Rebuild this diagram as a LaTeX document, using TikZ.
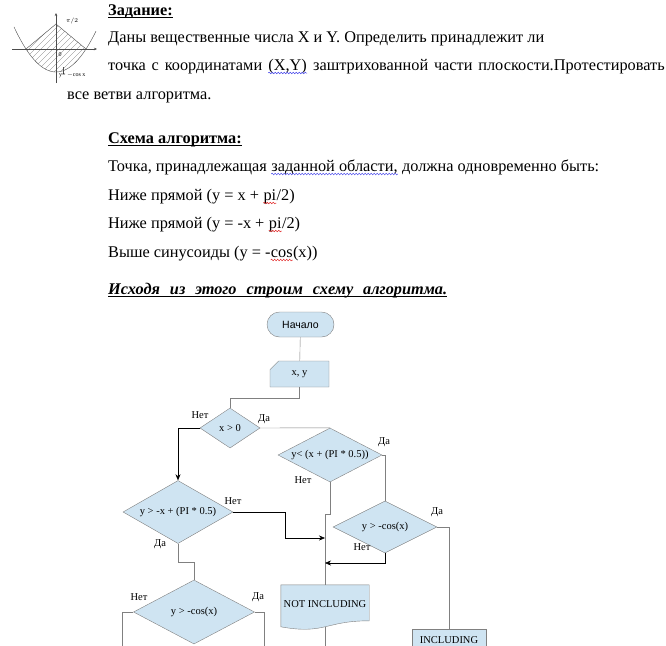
\documentclass[tikz,border=0pt]{standalone}
\usepackage{fontspec}
\setmainfont{Liberation Serif}
\setsansfont{Liberation Sans}
\usetikzlibrary{arrows.meta,positioning,calc,shapes.geometric,shapes.misc,
  decorations.pathmorphing}
\definecolor{wire}{RGB}{128,128,128}
\definecolor{boxfill}{RGB}{207,228,242}
\definecolor{spellblue}{RGB}{70,70,235}
\definecolor{spellred}{RGB}{225,40,40}
\tikzset{
  txt/.style={anchor=base west,inner sep=0pt,font=\fontsize{16.3}{19}\selectfont},
  head/.style={txt,font=\fontsize{16.3}{19}\selectfont\bfseries},
  uline/.style={draw=black,line width=0.9pt},
  wavy/.style={line width=0.5pt,decorate,
    decoration={snake,segment length=3pt,amplitude=0.8pt}},
  flow/.style={font=\rmfamily\fontsize{10.5}{12}\selectfont,inner sep=0pt},
  tag/.style={flow},
  term/.style={draw=wire,fill=boxfill,rounded rectangle,minimum width=67pt,
    minimum height=25pt,inner sep=0pt,font=\sffamily\fontsize{10.5}{12}\selectfont},
  inp/.style={draw=wire,fill=boxfill,chamfered rectangle,
    chamfered rectangle corners=north west,chamfered rectangle xsep=6pt,
    chamfered rectangle ysep=5pt,minimum width=59pt,minimum height=26pt,
    inner sep=0pt,flow},
  dec/.style={draw=wire,fill=boxfill,diamond,inner sep=0pt},
  blk/.style={draw=wire,fill=boxfill,rectangle,inner sep=0pt,flow},
  ar/.style={draw=wire},
  arb/.style={draw=black,-{Stealth[length=6pt,width=5pt]}},
  axis/.style={draw=black!70,line width=0.4pt},
  hatch/.style={draw=black!55,line width=0.35pt},
  mini/.style={font=\fontsize{6}{7}\selectfont,inner sep=0pt},
}

\begin{document}
\begin{tikzpicture}[x=1pt,y=-1pt]
  \useasboundingbox (0,0) rectangle (666,645);
  \clip (0,0) rectangle (666,645);

  % sketch of the shaded region
  \begin{scope}
    \clip (26,49) -- (56,24) -- (86,49) -- plot[domain=86:26,samples=30]
      (\x,{72-0.02556*(\x-56)^2}) -- cycle;
    \foreach \k in {-40,-34,...,96}
      \draw[hatch] (\k,76) -- ++(56,-56);
  \end{scope}
  \draw[axis,-{Stealth[length=3pt,width=2.5pt]}] (12,49) -- (97,49);
  \draw[axis,-{Stealth[length=3pt,width=2.5pt]}] (56,83) -- (56,13);
  \draw[axis] (26,49) -- (56,24) -- (86,49);
  \draw[axis] plot[domain=14:96,samples=40] (\x,{72-0.02556*(\x-56)^2});
  \draw[axis] (63,67) -- (63,74);
  \node[mini] (pihalf) at (72,21) {$\pi/2$};
  \node[mini] (zero) at (60,55) {0};
  \node[mini,anchor=west] (cosy) at (59,75) {y= $-$cos x};

  % task text
  \node[head] (task) at (108,15) {Задание:};
  \draw[uline] ([yshift=-2.5pt]task.base west) -- ([yshift=-2.5pt]task.base east);
  \node[txt] (p1) at (108,42) {Даны вещественные числа X и Y. Определить принадлежит ли};
  \node[txt] (p2a) at (108,70) {\spaceskip=5.8pt точка с координатами};
  \node[txt] (p2xy) at ([xshift=5.8pt]p2a.base east) {(X,Y)};
  \node[txt] (p2b) at ([xshift=5.8pt]p2xy.base east) {\spaceskip=5.8pt заштрихованной части плоскости.Протестировать};
  \draw[wavy,spellblue] ([yshift=-3pt]p2xy.base west) -- ([yshift=-3pt]p2xy.base east);
  \node[txt] (p3) at (67,99) {все ветви алгоритма.};

  \node[head] (scheme) at (108,143) {Схема алгоритма:};
  \draw[uline] ([yshift=-2.5pt]scheme.base west) -- ([yshift=-2.5pt]scheme.base east);
  \node[txt] (q1a) at (108,171) {Точка, принадлежащая};
  \node[txt] (q1w) at ([xshift=4.1pt]q1a.base east) {заданной области,};
  \node[txt] (q1b) at ([xshift=4.1pt]q1w.base east) {должна одновременно быть:};
  \draw[wavy,spellblue] ([yshift=-3pt]q1w.base west) -- ([yshift=-3pt]q1w.base east);
  \node[txt] (q2a) at (108,200) {Ниже прямой (y = x +};
  \node[txt] (q2w) at ([xshift=4.1pt]q2a.base east) {pi};
  \node[txt] (q2b) at (q2w.base east) {/2)};
  \draw[wavy,spellred] ([yshift=-3pt]q2w.base west) -- ([yshift=-3pt]q2w.base east);
  \node[txt] (q3a) at (108,228) {Ниже прямой (y = -x +};
  \node[txt] (q3w) at ([xshift=4.1pt]q3a.base east) {pi};
  \node[txt] (q3b) at (q3w.base east) {/2)};
  \draw[wavy,spellred] ([yshift=-3pt]q3w.base west) -- ([yshift=-3pt]q3w.base east);
  \node[txt] (q4a) at (108,257) {Выше синусоиды (y = -};
  \node[txt] (q4w) at (q4a.base east) {cos};
  \node[txt] (q4b) at (q4w.base east) {(x))};
  \draw[wavy,spellred] ([yshift=-3pt]q4w.base west) -- ([yshift=-3pt]q4w.base east);
  \node[head] (build) at (108,294) {\itshape\makebox[339pt][s]{Исходя из этого строим схему алгоритма.}};
  \draw[uline] ([yshift=-2.5pt]build.base west) -- ([yshift=-2.5pt]build.base east);

  % flowchart
  \node[term] (start) at (300.5,324.5) {Начало};
  \node[inp] (xy) at (299.5,374) {x, y};
  \node[dec,minimum width=60pt,minimum height=40pt,label={[flow]center:x > 0}] (c1) at (230,428) {};
  \node[dec,minimum width=104pt,minimum height=54pt,label={[flow]center:y< (x + (PI * 0.5))}] (c2) at (330,455) {};
  \node[dec,minimum width=104pt,minimum height=52pt,label={[flow]center:y > -cos(x)}] (c3) at (385,527) {};
  \node[dec,minimum width=110pt,minimum height=63pt,label={[flow]center:y > -x + (PI * 0.5)}] (c4) at (178,512) {};
  \node[dec,minimum width=121pt,minimum height=64pt,label={[flow]center:y > -cos(x)}] (c5) at (194,612) {};
  \node[minimum width=88pt,minimum height=45pt,inner sep=0pt] (noin) at (325,607.5) {};
  \filldraw[draw=wire,fill=boxfill] (noin.north west) -- (noin.north east)
    -- ($(noin.north east)+(0,36)$) .. controls ($(noin.north)+(0,36)$) and ($(noin.north)+(0,50)$)
    .. ($(noin.north west)+(0,42)$) -- cycle;
  \node[flow] (nointxt) at ($(noin.center)+(0,-3)$) {NOT INCLUDING};
  \node[blk,minimum width=74pt,minimum height=30pt] (yes) at (449,644) {};
  \node[flow] (yestxt) at (449,640) {INCLUDING};
  \coordinate (j1) at (325,538);
  \coordinate (j2) at (325,563);

  \draw[ar] (start) -- (xy);
  \draw[ar] (xy.south) -- ++(0,11) -| (c1.north);
  \draw[arb] (c1.west) -| (c4.north);
  \draw[ar] (c1.east) -- (c2.north);
  \draw[ar] (c2.east) -| (c3.north);
  \draw[ar] (c2.south) -- ++(0,32) -| (noin.north);
  \draw[arb] (c4.east) -- ++(52,0) |- (j1);
  \draw[arb] (c3.south) |- (j2);
  \draw[ar] (c3.east) -| (yes.north);
  \draw[ar] (c4.south) -- ++(0,18) -| (c5.north);
  \draw[ar] (c5.west) -- ++(-11,0) -- ++(0,40);
  \draw[ar] (c5.east) -- ++(9,0) -- ++(0,40);
  \draw[ar] ($(noin.north)+(0,42)$) -- ++(0,30);

  \node[tag] (n1) at (200,415) {Нет};
  \node[tag] (y1) at (264,419) {Да};
  \node[tag] (y2) at (384,442) {Да};
  \node[tag] (n2) at (303,480) {Нет};
  \node[tag] (y3) at (437,512) {Да};
  \node[tag] (n3) at (362,547) {Нет};
  \node[tag] (n4) at (233,501) {Нет};
  \node[tag] (y4) at (160,544) {Да};
  \node[tag] (n5) at (139,597) {Нет};
  \node[tag] (y5) at (258,597) {Да};
\end{tikzpicture}
\end{document}
